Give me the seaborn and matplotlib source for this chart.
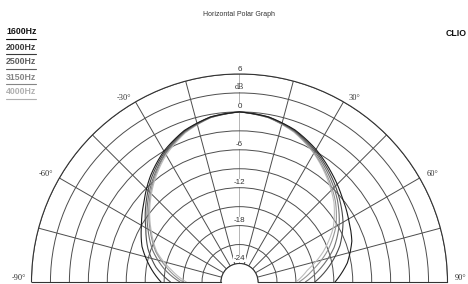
import numpy as np
import pandas as pd
import matplotlib
matplotlib.use("Agg")
import matplotlib.pyplot as plt
import seaborn as sns

# =========================
# DATA
# =========================
angles = [-90, -80, -70, -60, -50, -40, -30, -20, -10, 0,
          10, 20, 30, 40, 50, 60, 70, 80, 90]

freqs = ["1600Hz", "2000Hz", "2500Hz", "3150Hz", "4000Hz"]

db_1600 = [-14.5, -12.5, -10.5, -9.0, -7.2, -5.0, -3.0, -1.4, -0.4, 0.0,
           -0.4, -1.3, -2.7, -4.3, -5.8, -7.0, -8.0, -9.6, -11.8]
db_2000 = [-16.0, -13.5, -11.5, -9.8, -7.6, -5.3, -3.2, -1.5, -0.4, 0.0,
           -0.4, -1.4, -2.9, -4.6, -6.3, -8.0, -10.0, -12.5, -15.0]
db_2500 = [-17.5, -14.8, -12.3, -10.2, -7.9, -5.6, -3.4, -1.6, -0.5, 0.0,
           -0.5, -1.5, -3.1, -4.9, -6.7, -8.7, -11.0, -13.8, -16.5]
db_3150 = [-18.0, -15.5, -12.8, -10.6, -8.2, -5.8, -3.5, -1.7, -0.5, 0.0,
           -0.5, -1.6, -3.3, -5.2, -7.1, -9.3, -12.0, -15.0, -17.5]
db_4000 = [-18.5, -16.0, -13.0, -10.8, -8.4, -6.0, -3.7, -1.8, -0.5, 0.0,
           -0.5, -1.7, -3.4, -5.4, -7.4, -9.8, -12.8, -16.0, -18.0]

ring_ticks = [-24, -21, -18, -15, -12, -9, -6, -3, 0, 3, 6]
ring_labels = {6: "6", 3: "dB", 0: "0", -6: "-6", -12: "-12", -18: "-18", -24: "-24"}
spoke_ticks = [-90, -75, -60, -45, -30, -15, 0, 15, 30, 45, 60, 75, 90]
angle_labels = [-90, -60, -30, 30, 60, 90]

# =========================
# STYLE
# =========================
curve_colors = ["#1c1c1c", "#4a4a4a", "#707070", "#959595", "#bcbcbc"]
legend_colors = ["#111111", "#3a3a3a", "#5e5e5e", "#858585", "#b0b0b0"]
grid_color = "#4d4d4d"

sns.set_style("white")
plt.rcParams["font.family"] = ["Liberation Sans", "DejaVu Sans"]

W, H = 468, 284
cx, cy = 239.5, 282.0      # pole position in pixels (from top-left)
R = 208.0                   # outer radius in pixels
hole = 18.5                 # inner hole radius in pixels

rmin, rmax = -24, 6
ratio = hole / R
rorigin = (rmin - ratio * rmax) / (1 - ratio)

fig = plt.figure(figsize=(W / 100, H / 100), dpi=100)
# square box: half disc sits in the middle, pole at 1/4 of the box height
box = 2 * R
left = (cx - R) / W
bottom = ((H - cy) - 0.25 * box) / H
ax = fig.add_axes([left, bottom, box / W, box / H], projection="polar")

ax.set_theta_zero_location("N")
ax.set_theta_direction(-1)
ax.set_thetamin(-90)
ax.set_thetamax(90)
ax.set_ylim(rmin, rmax)
ax.set_rorigin(rorigin)

ax.set_rticks(ring_ticks)
ax.set_yticklabels([])
ax.set_thetagrids(spoke_ticks, labels=[""] * len(spoke_ticks))
ax.grid(True, color=grid_color, linewidth=0.7)
for loc, gl in zip(spoke_ticks, ax.xaxis.get_gridlines()):
    if loc == 0:
        gl.set_color("#b5b5b5")
for name, sp in ax.spines.items():
    sp.set_color("#333333")
    sp.set_linewidth(0.8)

# =========================
# CURVES
# =========================
series = [db_1600, db_2000, db_2500, db_3150, db_4000]
df = pd.concat([
    pd.DataFrame({"theta": np.deg2rad(angles), "level": vals, "freq": f})
    for f, vals in zip(freqs, series)
])
sns.lineplot(data=df, x="theta", y="level", hue="freq", hue_order=freqs[::-1],
             palette=dict(zip(freqs, curve_colors)), legend=False, errorbar=None,
             sort=False, linewidth=0.8, ax=ax)
ax.set_xlabel("")
ax.set_ylabel("")
# let the polar transform draw the segments as arcs
for ln in ax.lines:
    ln.get_path()._interpolation_steps = 30

# ring labels on the 0 deg axis
for r, lab in ring_labels.items():
    fam = ["Liberation Serif"] if lab == "dB" else ["Liberation Sans"]
    ax.annotate(lab, xy=(0, r), xytext=(0, 1.5), textcoords="offset pixels",
                ha="center", va="bottom", fontsize=5.8, color="#333333",
                family=fam,
                bbox=dict(boxstyle="square,pad=0.05", fc="white", ec="none"))

# angle labels at the outer ring
offsets = {-90: (-5, 0), -60: (-6, 0), -30: (-4, 0), 30: (5, 0), 60: (7, 0), 90: (7, 0)}
for a in angle_labels:
    dx, dy = offsets[a]
    ax.annotate(f"{a}\u00b0", xy=(np.deg2rad(a), rmax), xytext=(dx, dy),
                textcoords="offset pixels", ha="right" if a < 0 else "left",
                va="bottom", fontsize=6, color="#333333",
                family=["Liberation Serif"], annotation_clip=False)

# =========================
# TITLE / LEGEND / BRAND
# =========================
fig.text(cx / W, 1 - 14 / H, "Horizontal Polar Graph", ha="center", va="center",
         fontsize=5, color="#333333")
fig.text(1 - 1 / W, 1 - 33 / H, "CLIO", ha="right", va="center",
         fontsize=6.3, fontweight="bold", color="#111111")

for i, (f, c) in enumerate(zip(freqs, legend_colors)):
    ty = 32 + 15 * i
    fig.text(6 / W, 1 - ty / H, f, ha="left", va="center", fontsize=6.3,
             fontweight="bold", color=c)
    fig.add_artist(plt.Line2D([6 / W, 36 / W], [1 - (ty + 6.5) / H] * 2,
                              color=c, linewidth=0.8, transform=fig.transFigure))

fig.savefig("out.png", dpi=100, facecolor="white")
